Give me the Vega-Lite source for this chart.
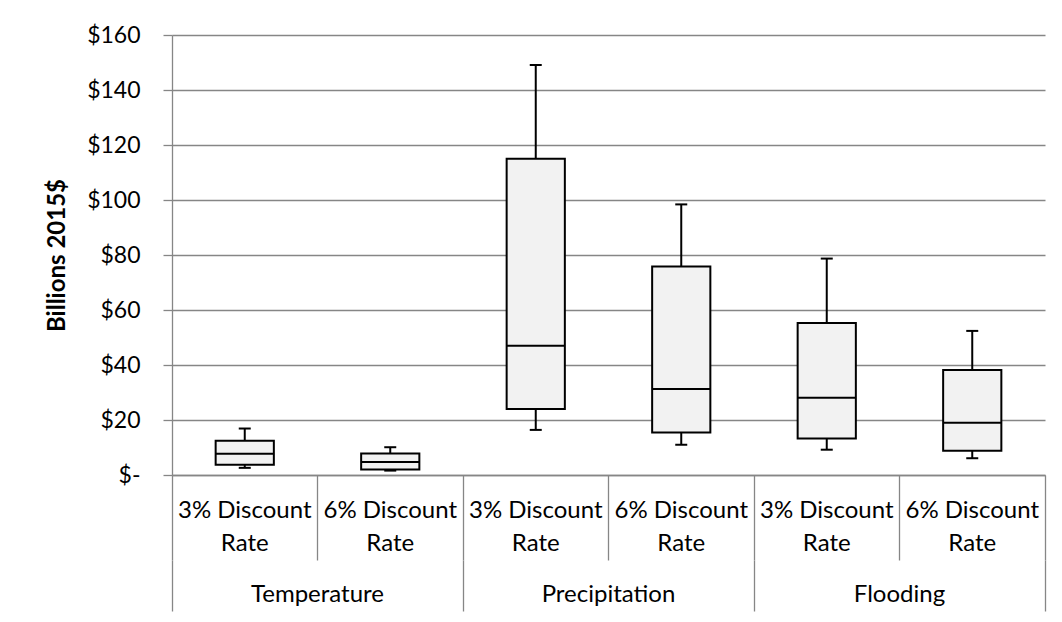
{
  "$schema": "https://vega.github.io/schema/vega-lite/v6.json",
  "width": 873,
  "height": 440,
  "autosize": "none",
  "padding": {"left": 172, "top": 35, "right": 17, "bottom": 147},
  "background": "white",
  "config": {"view": {"stroke": null}, "font": "Lato"},
  "data": {
    "values": [
      {"key": "Temperature|3% Discount|Rate", "group": "Temperature", "lower": 2.6, "q1": 3.7, "median": 7.7, "q3": 12.5, "upper": 16.9},
      {"key": "Temperature|6% Discount|Rate", "group": "Temperature", "lower": 1.6, "q1": 2.0, "median": 4.7, "q3": 7.8, "upper": 10.1},
      {"key": "Precipitation|3% Discount|Rate", "group": "Precipitation", "lower": 16.4, "q1": 24.0, "median": 47.0, "q3": 115.0, "upper": 149.1},
      {"key": "Precipitation|6% Discount|Rate", "group": "Precipitation", "lower": 11.0, "q1": 15.5, "median": 31.3, "q3": 75.8, "upper": 98.4},
      {"key": "Flooding|3% Discount|Rate", "group": "Flooding", "lower": 9.2, "q1": 13.3, "median": 28.1, "q3": 55.3, "upper": 78.7},
      {"key": "Flooding|6% Discount|Rate", "group": "Flooding", "lower": 6.1, "q1": 8.8, "median": 19.0, "q3": 38.2, "upper": 52.4}
    ]
  },
  "encoding": {
    "x": {
      "field": "key", "type": "nominal", "sort": null,
      "scale": {"paddingInner": 0, "paddingOuter": 0},
      "axis": {
        "title": null, "orient": "bottom", "labelAngle": 0,
        "labelExpr": "slice(split(datum.label, '|'), 1)",
        "labelFont": "Lato", "labelFontSize": 24, "labelColor": "black",
        "labelLineHeight": 33, "labelBaseline": "top", "labelPadding": -62,
        "tickSize": 85, "tickColor": "#868686", "tickWidth": 1.3,
        "bandPosition": 1, "tickExtra": true,
        "domainColor": "#868686", "domainWidth": 1.3, "grid": false
      }
    }
  },
  "layer": [
    {
      "layer": [
        {
          "mark": {"type": "rule", "color": "black", "strokeWidth": 2},
          "encoding": {
            "y": {
              "field": "lower", "type": "quantitative",
              "scale": {"domain": [0, 160], "nice": false, "zero": true},
              "axis": {
                "title": "Billions 2015$", "titleFont": "Lato", "titleFontSize": 24, "titleFontWeight": "bold", "titleColor": "black", "titlePadding": 17,
                "values": [0, 20, 40, 60, 80, 100, 120, 140, 160],
                "labelExpr": "datum.value == 0 ? '$-\u00a0\u00a0\u00a0' : '$' + datum.value",
                "labelFont": "Lato", "labelFontSize": 23, "labelColor": "black", "labelPadding": 23,
                "tickSize": 9, "tickColor": "#868686", "tickWidth": 1.3,
                "domainColor": "#868686", "domainWidth": 1.3,
                "grid": true, "gridColor": "#868686", "gridWidth": 1.3
              }
            },
            "y2": {"field": "upper"}
          }
        },
        {
          "mark": {"type": "bar", "fill": "#f2f2f2", "stroke": "black", "strokeWidth": 2, "width": {"band": 0.4}},
          "encoding": {
            "y": {"field": "q1", "type": "quantitative"},
            "y2": {"field": "q3"}
          }
        },
        {
          "mark": {"type": "tick", "color": "black", "thickness": 2, "size": 58, "opacity": 1},
          "encoding": {"y": {"field": "median", "type": "quantitative"}}
        },
        {
          "mark": {"type": "tick", "color": "black", "thickness": 2, "size": 12, "opacity": 1},
          "encoding": {"y": {"field": "lower", "type": "quantitative"}}
        },
        {
          "mark": {"type": "tick", "color": "black", "thickness": 2, "size": 12, "opacity": 1},
          "encoding": {"y": {"field": "upper", "type": "quantitative"}}
        }
      ]
    },
    {
      "mark": {"type": "tick", "opacity": 0},
      "encoding": {
        "x": {
          "field": "group", "type": "nominal", "sort": null,
          "scale": {"paddingInner": 0, "paddingOuter": 0},
          "axis": {
            "title": null, "orient": "bottom", "offset": 85, "labelAngle": 0,
            "labelFont": "Lato", "labelFontSize": 24, "labelColor": "black",
            "labelBaseline": "top", "labelPadding": -29,
            "tickSize": 51, "tickColor": "#868686", "tickWidth": 1.3,
            "bandPosition": 1, "tickExtra": true,
            "domain": false, "grid": false
          }
        },
        "y": {"field": "median", "type": "quantitative"}
      }
    }
  ],
  "resolve": {"scale": {"x": "independent"}, "axis": {"x": "independent"}}
}
